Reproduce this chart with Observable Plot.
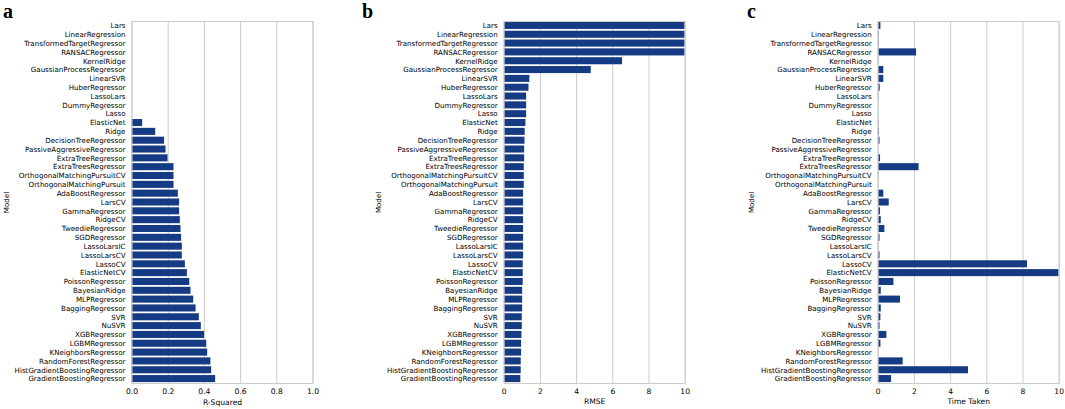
<!DOCTYPE html>
<html><head><meta charset="utf-8">
<script src="https://cdn.jsdelivr.net/npm/d3@7"></script>
<script src="https://cdn.jsdelivr.net/npm/@observablehq/plot@0.6"></script>
<style>
body{margin:0;background:#fff;}
#wrap{position:relative;width:1065px;height:409px;font-family:"DejaVu Sans",sans-serif;overflow:hidden;}
.panel{position:absolute;top:0;}
.letter{position:absolute;font-family:"Liberation Serif",serif;font-weight:bold;font-size:20px;line-height:normal;top:0px;color:#000;}
</style></head><body><div id="wrap"></div>
<script>
const models = ["Lars","LinearRegression","TransformedTargetRegressor","RANSACRegressor","KernelRidge","GaussianProcessRegressor","LinearSVR","HuberRegressor","LassoLars","DummyRegressor","Lasso","ElasticNet","Ridge","DecisionTreeRegressor","PassiveAggressiveRegressor","ExtraTreeRegressor","ExtraTreesRegressor","OrthogonalMatchingPursuitCV","OrthogonalMatchingPursuit","AdaBoostRegressor","LarsCV","GammaRegressor","RidgeCV","TweedieRegressor","SGDRegressor","LassoLarsIC","LassoLarsCV","LassoCV","ElasticNetCV","PoissonRegressor","BayesianRidge","MLPRegressor","BaggingRegressor","SVR","NuSVR","XGBRegressor","LGBMRegressor","KNeighborsRegressor","RandomForestRegressor","HistGradientBoostingRegressor","GradientBoostingRegressor"];
// R-Squared: first 11 models are below 0 (not visible in the reference)
const rSquared = [null,null,null,null,null,null,null,null,null,null,null,0.059,0.131,0.180,0.188,0.199,0.232,0.232,0.232,0.256,0.263,0.263,0.267,0.271,0.274,0.278,0.278,0.295,0.306,0.319,0.326,0.341,0.354,0.372,0.383,0.401,0.413,0.418,0.436,0.440,0.462];
const rmse = [10,10,10,10,6.54,4.81,1.42,1.37,1.24,1.24,1.24,1.20,1.16,1.15,1.13,1.13,1.11,1.11,1.11,1.07,1.07,1.07,1.07,1.07,1.07,1.07,1.07,1.05,1.05,1.05,1.02,1.02,1.02,1.00,1.00,0.98,0.96,0.96,0.94,0.94,0.92];
const timeTaken = [0.15,0.04,0.05,2.12,0.03,0.31,0.31,0.11,0.04,0.005,0.005,0.03,0.07,0.10,0.005,0.13,2.26,0.03,0.005,0.31,0.61,0.13,0.17,0.37,0.10,0.03,0.10,8.25,10,0.87,0.17,1.23,0.17,0.15,0.10,0.48,0.15,0.005,1.38,4.99,0.74];
const ticksA = [0,0.2,0.4,0.6,0.8,1.0];
const ticksBC = [0,2,4,6,8,10];
const panels = [
  {letter:"a", left:0, marginLeft:131.5, values:rSquared, domain:[0,1], ticks:ticksA, fmt:d3.format(".1f"), label:"R-Squared", letterX:3, modelX:3},
  {letter:"b", left:355, marginLeft:148.7, values:rmse, domain:[0,10], ticks:ticksBC, fmt:d3.format("d"), label:"RMSE", letterX:362, modelX:20},
  {letter:"c", left:720, marginLeft:157.7, values:timeTaken, domain:[0,10], ticks:ticksBC, fmt:d3.format("d"), label:"Time Taken", letterX:747, modelX:28.5}
];
const wrap = document.getElementById("wrap");
for (const p of panels) {
  const data = models.map((m,i)=>({model:m, value:p.values[i]}));
  const chart = Plot.plot({
    width: p.marginLeft + 181 + 6,
    height: 409,
    marginLeft: p.marginLeft,
    marginRight: 6,
    marginTop: 21,
    marginBottom: 26,
    style: {fontFamily:"DejaVu Sans", fontSize:"7.1px", color:"#000", background:"white", overflow:"visible"},
    x: {domain: p.domain},
    y: {domain: models, paddingInner: 0.2, paddingOuter: 0.1},
    marks: [
      Plot.gridX(p.ticks, {stroke:"#cccccc", strokeOpacity:1, strokeWidth:1}),
      Plot.barX(data, {x:"value", y:"model", fill:"#163b85", clip:true}),
      Plot.frame({stroke:"#cccccc", strokeWidth:1}),
      Plot.axisX({ticks:p.ticks, tickSize:0, tickPadding:5, tickFormat:p.fmt, label:p.label, labelAnchor:"center", labelArrow:"none", labelOffset:21, fontSize:7.6, fill:"#000"}),
      Plot.axisY({tickSize:0, tickPadding:6.5, label:"Model", labelAnchor:"center", labelOffset:p.marginLeft - p.modelX, fontSize:7.1, fill:"#000"})
    ]
  });
  chart.classList.add("panel");
  chart.style.left = p.left + "px";
  wrap.appendChild(chart);
  const L = document.createElement("div");
  L.className = "letter";
  L.style.left = p.letterX + "px";
  L.textContent = p.letter;
  wrap.appendChild(L);
}
</script></body></html>
